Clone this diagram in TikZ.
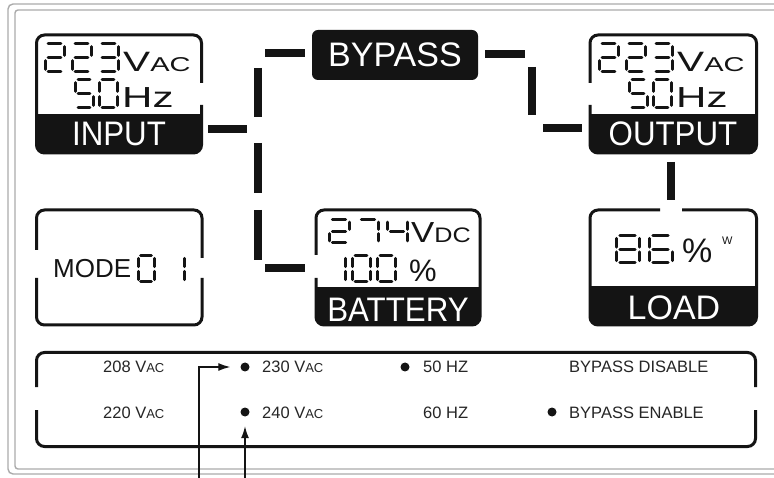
\documentclass[tikz,border=0pt]{standalone}
\usepackage{fontspec}
\setmainfont{Liberation Sans}
\newfontfamily\widesans[FakeStretch=1.45]{Liberation Sans}
\newfontfamily\midsans[FakeStretch=1.2]{Liberation Sans}
\newfontfamily\barsans[FakeStretch=0.92]{Liberation Sans}
\usetikzlibrary{arrows.meta}

\definecolor{lcdink}{HTML}{141414}
\definecolor{framegray}{HTML}{ABABAB}
\definecolor{optink}{HTML}{262626}

% smaller letters inside a unit, e.g. V{AC}
\newcommand\lo[2]{{\fontsize{#1}{#1}\selectfont #2}}
% segments lit for each digit
\newcommand\segsof[1]{\ifcase#1 a,b,c,d,e,f\or b,c\or a,b,g,e,d\or a,b,g,c,d\or f,g,b,c\or a,f,g,c,d\or a,f,g,e,d,c\or a,b,c\or a,b,c,d,e,f,g\or a,b,c,d,f,g\fi}
\newcommand\lcdsega{\draw[lcd seg] (0.17,0) -- (0.83,0);}
\newcommand\lcdsegb{\draw[lcd seg] (1,0.09) -- (1,0.41);}
\newcommand\lcdsegc{\draw[lcd seg] (1,0.59) -- (1,0.91);}
\newcommand\lcdsegd{\draw[lcd seg] (0.17,1) -- (0.83,1);}
\newcommand\lcdsege{\draw[lcd seg] (0,0.59) -- (0,0.91);}
\newcommand\lcdsegf{\draw[lcd seg] (0,0.09) -- (0,0.41);}
\newcommand\lcdsegg{\draw[lcd seg] (0.17,0.5) -- (0.83,0.5);}
% black bar at the foot of a box: x1, bar top, x2, box top, box bottom
\newcommand\barfill[5]{%
  \begin{scope}
    \clip (#1-5,#2) rectangle (#3+5,#5+5);
    \fill[lcdink, rounded corners=8] (#1,#4) rectangle (#3,#5);
  \end{scope}}

\tikzset{
  lcd seg/.style={line width=3pt, line cap=round, draw=lcdink},
  pics/digit/.style={code={
    \edef\seglist{\segsof{#1}}
    \foreach \s in \seglist {\csname lcdseg\s\endcsname}
  }},
  lcdbox/.style={draw=lcdink, line width=3pt, rounded corners=8},
  link/.style={draw=lcdink, line width=8pt},
  frame/.style={draw=framegray, line width=1.4pt},
  barlabel/.style={text=white, inner sep=0, font=\barsans\fontsize{34}{34}\selectfont},
  unit/.style={anchor=base west, inner sep=0, text=lcdink},
  opt/.style={anchor=base west, inner sep=0, text=optink, font=\fontsize{16.5}{16.5}\selectfont},
  dot/.style={circle, fill=lcdink, inner sep=0, minimum size=9pt},
  pointer/.style={draw=lcdink, line width=1.3pt, -{Latex[length=12pt,width=8pt]}}
}

\begin{document}
\begin{tikzpicture}[x=1pt, y=-1pt]
  \useasboundingbox (0,0) rectangle (774,478);
  \clip (0,0) rectangle (774,478);
  \fill[white] (0,0) rectangle (774,478);
  \draw[frame, rounded corners=5] (8,4) rectangle (800,474);
  \draw[frame, rounded corners=3] (15,10) rectangle (800,469);

  % input
  \barfill{36.5}{115}{201.5}{35}{153}
  \draw[lcdbox] (201.5,105) -- (201.5,153) -- (36.5,153) -- (36.5,35) -- (201.5,35) -- (201.5,83);
  \foreach \d [count=\i from 0] in {2,2,3}
    \pic[xscale=19, yscale=28] at ({45+\i*27},44) {digit=\d};
  \foreach \d [count=\i from 0] in {5,0}
    \pic[xscale=18, yscale=28] at ({75+\i*24},80) {digit=\d};
  \node[unit, font=\widesans\fontsize{28}{28}\selectfont] (involt) at (123,72) {V\lo{20}{AC}};
  \node[unit, font=\widesans\fontsize{29}{29}\selectfont] (infreq) at (122,108) {Hz};
  \node[barlabel] (input) at (119,134) {INPUT};

  % output
  \barfill{590}{115}{756.5}{35}{153}
  \draw[lcdbox] (590,83) -- (590,35) -- (756.5,35) -- (756.5,153) -- (590,153) -- (590,105);
  \foreach \d [count=\i from 0] in {2,2,3}
    \pic[xscale=19, yscale=28] at ({599+\i*27},44) {digit=\d};
  \foreach \d [count=\i from 0] in {5,0}
    \pic[xscale=18, yscale=28] at ({629+\i*24},80) {digit=\d};
  \node[unit, font=\widesans\fontsize{28}{28}\selectfont] (outvolt) at (677,72) {V\lo{20}{AC}};
  \node[unit, font=\widesans\fontsize{29}{29}\selectfont] (outfreq) at (676,108) {Hz};
  \node[barlabel] (output) at (673,134) {OUTPUT};

  % bypass
  \node[fill=lcdink, rounded corners=6, minimum width=166pt, minimum height=50pt,
    inner sep=0, text=white, font=\fontsize{34}{34}\selectfont] (bypass) at (395,55) {BYPASS};

  % mode
  \draw[lcdbox] (36.5,250) -- (36.5,210) -- (202,210) -- (202,258);
  \draw[lcdbox] (36.5,278) -- (36.5,325) -- (202,325) -- (202,278);
  \node[unit, font=\fontsize{26}{26}\selectfont] (mode) at (53,278) {MODE};
  \pic[xscale=16, yscale=26] at (138,256) {digit=0};
  \pic[xscale=16, yscale=26] at (168,256) {digit=1};

  % battery
  \barfill{316}{288}{480}{210}{325}
  \draw[lcdbox] (316,278) -- (316,325) -- (480,325) -- (480,210) -- (316,210) -- (316,255);
  \foreach \d [count=\i from 0] in {2,7,4}
    \pic[xscale=20, yscale=23] at ({329+\i*29},220) {digit=\d};
  \foreach \d [count=\i from 0] in {1,0,0}
    \pic[xscale=18, yscale=26] at ({327+\i*25},256) {digit=\d};
  \node[unit, font=\midsans\fontsize{29}{29}\selectfont] (batvolt) at (411,243) {V\lo{21}{DC}};
  \node[unit, font=\fontsize{31}{31}\selectfont] (batpct) at (409,282) {\%};
  \node[barlabel] (battery) at (398,310) {BATTERY};

  % load
  \barfill{590}{287}{756.5}{210}{325}
  \draw[lcdbox] (682,210) -- (756.5,210) -- (756.5,325) -- (590,325) -- (590,210) -- (660,210);
  \foreach \d [count=\i from 0] in {8,6}
    \pic[xscale=23, yscale=27] at ({616+\i*33},236) {digit=\d};
  \node[unit, font=\fontsize{34}{34}\selectfont] (loadpct) at (682,263) {\%};
  \node[unit, font=\fontsize{11}{11}\selectfont] (loadw) at (722,245) {W};
  \node[text=white, inner sep=0, font=\fontsize{34}{34}\selectfont] (load) at (674,308) {LOAD};

  % links
  \foreach \a/\b in {{208,129}/{247,129}, {257.5,68}/{257.5,117}, {257.5,143}/{257.5,193},
      {257.5,210}/{257.5,260}, {265,53.5}/{305,53.5}, {265,268.5}/{305,268.5},
      {485,54.5}/{525,54.5}, {532,67}/{532,115}, {543,128.5}/{582,128.5}, {670.5,162}/{670.5,200}}
    \draw[link] (\a) -- (\b);

  % settings panel
  \draw[lcdbox] (36.5,387) -- (36.5,352.5) -- (755.5,352.5) -- (755.5,387);
  \draw[lcdbox] (36.5,410) -- (36.5,446.5) -- (755.5,446.5) -- (755.5,410);
  \node[opt] (v208) at (103,373) {208 V\lo{13}{AC}};
  \node[opt] (v220) at (103,418) {220 V\lo{13}{AC}};
  \node[dot] (d230) at (245,367) {};
  \node[opt] (v230) at (262,373) {230 V\lo{13}{AC}};
  \node[dot] (d240) at (245,412) {};
  \node[opt] (v240) at (262,418) {240 V\lo{13}{AC}};
  \node[dot] (d50) at (405,367) {};
  \node[opt] (f50) at (423,373) {50 HZ};
  \node[opt] (f60) at (423,418) {60 HZ};
  \node[opt] (bpoff) at (569,373) {BYPASS DISABLE};
  \node[dot] (don) at (552,412) {};
  \node[opt] (bpon) at (569,418) {BYPASS ENABLE};

  % pointers from below
  \coordinate (pa) at (199,478);
  \coordinate (pb) at (245,478);
  \draw[pointer, shorten >=10pt] (pa) |- (d230.west);
  \draw[pointer, shorten >=9.5pt] (pb) -- (d240.south);
\end{tikzpicture}
\end{document}
